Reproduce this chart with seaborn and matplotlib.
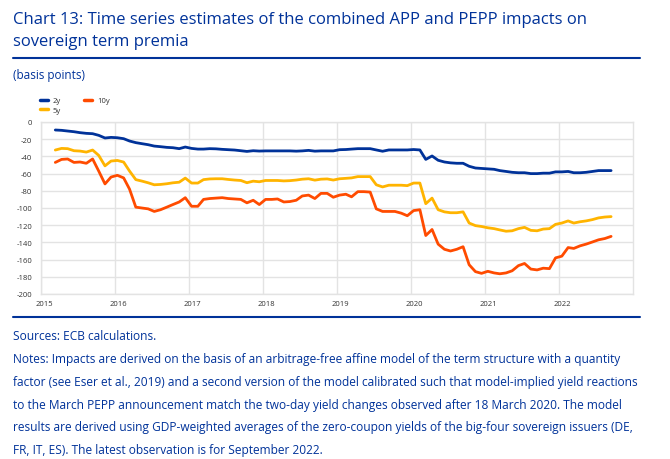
import numpy as np
import pandas as pd
import matplotlib
matplotlib.use("Agg")
import matplotlib.pyplot as plt
import matplotlib.transforms as mtransforms
from matplotlib import font_manager
from matplotlib.lines import Line2D
import seaborn as sns

# ---------------- data (basis points, monthly Mar 2015 - Sep 2022) ----------------
start_month = "2015-03-01"
n_months = 91
series_names = ["2y", "5y", "10y"]
series_colors = ["#003299", "#ffb400", "#ff4b00"]

y2 = [-9.3, -9.7, -10.5, -11.3, -12.4, -13.2, -13.6, -15.5, -18.6, -17.9,
      -18.3, -19.4, -22.1, -24.0, -25.2, -26.4, -28.0, -28.7, -29.5, -29.9, -31.0, -29.1,
      -30.7, -31.5, -31.5, -31.0, -31.2, -31.8, -32.2, -32.6, -33.4, -34.2, -33.4, -33.8,
      -33.6, -33.6, -33.6, -33.6, -33.6, -33.9, -33.6, -33.0, -33.9, -33.6, -33.6, -33.6,
      -32.2, -32.0, -31.5, -31.0, -31.0, -31.0, -32.5, -34.0, -32.5, -32.5, -32.5, -32.5,
      -32.0, -32.5, -43.5, -39.5, -44.5, -46.5, -47.5, -48.0, -48.0, -51.5, -53.5, -54.0,
      -54.5, -55.0, -56.5, -57.5, -58.5, -59.0, -59.0, -60.0, -60.0, -59.5, -59.5, -58.0,
      -58.0, -57.5, -59.0, -59.0, -58.5, -57.5, -56.5, -56.5, -56.5]

y5 = [-32.6, -30.7, -31.0, -33.4, -33.8, -35.0, -32.6, -38.8, -51.0, -45.4,
      -44.7, -46.6, -57.0, -67.0, -68.7, -70.7, -73.0, -72.6, -71.8, -70.7, -70.0, -65.2,
      -71.0, -71.0, -67.0, -66.2, -66.0, -66.0, -66.8, -67.5, -68.0, -70.6, -68.8, -69.5,
      -68.0, -68.0, -68.0, -68.5, -68.2, -67.5, -66.5, -66.0, -67.6, -66.5, -66.2, -67.5,
      -66.0, -65.5, -65.0, -63.5, -63.5, -63.5, -73.0, -75.5, -73.5, -73.5, -73.5, -74.0,
      -71.0, -71.0, -95.0, -88.5, -102.0, -104.5, -105.5, -105.5, -104.5, -117.5, -120.5, -121.5,
      -123.0, -124.0, -125.5, -127.0, -126.5, -124.0, -122.5, -126.0, -126.5, -124.5, -124.0, -119.0,
      -117.5, -115.0, -117.5, -116.0, -115.0, -113.5, -111.5, -110.5, -110.0]

y10 = [-47.0, -43.5, -43.0, -47.0, -46.5, -48.0, -43.0, -57.0, -72.0, -64.0,
       -62.0, -65.0, -78.0, -99.0, -100.0, -101.0, -104.0, -102.0, -99.0, -96.0, -93.0, -88.0,
       -98.0, -98.0, -90.0, -89.0, -88.5, -88.0, -89.0, -89.5, -90.0, -94.0, -91.0, -96.0,
       -90.0, -90.0, -89.5, -93.0, -92.5, -91.0, -86.0, -85.0, -89.0, -83.0, -83.0, -87.5,
       -85.0, -84.0, -87.0, -81.0, -81.0, -81.5, -101.0, -104.0, -104.0, -104.0, -106.0, -109.0,
       -103.0, -102.0, -132.0, -125.0, -142.0, -148.0, -150.0, -148.0, -145.0, -166.0, -174.0, -176.0,
       -173.6, -175.5, -176.5, -175.5, -173.0, -167.0, -164.5, -171.0, -172.0, -170.0, -170.5, -158.0,
       -156.0, -146.0, -147.0, -144.0, -142.0, -139.5, -137.0, -135.5, -133.0]

y_ticks = list(range(-200, 1, 20))
x_tick_years = list(range(2015, 2023))

title_lines = ["Chart 13: Time series estimates of the combined APP and PEPP impacts on",
               "sovereign term premia"]
unit_label = "(basis points)"
note_lines = [
    "Sources: ECB calculations.",
    "Notes: Impacts are derived on the basis of an arbitrage-free affine model of the term structure with a quantity",
    "factor (see Eser et al., 2019) and a second version of the model calibrated such that model-implied yield reactions",
    "to the March PEPP announcement match the two-day yield changes observed after 18 March 2020. The model",
    "results are derived using GDP-weighted averages of the zero-coupon yields of the big-four sovereign issuers (DE,",
    "FR, IT, ES). The latest observation is for September 2022.",
]

# ---------------- frame ----------------
dates = pd.date_range(start_month, periods=n_months, freq="MS") + pd.Timedelta(days=14)
df = pd.concat([
    pd.DataFrame({"date": dates, "value": vals, "series": name})
    for name, vals in zip(series_names, [y2, y5, y10])
], ignore_index=True)

# ---------------- style ----------------
sns.set_style("white")
available = {f.name for f in font_manager.fontManager.ttflist}
fam = [f for f in ["Liberation Sans Narrow", "Open Sans", "DejaVu Sans"] if f in available]
plt.rcParams["font.family"] = fam
plt.rcParams["axes.unicode_minus"] = False

W, H = 670, 460
BLUE = "#003299"
GRID = "#e3e3e3"

fig = plt.figure(figsize=(W / 100, H / 100), dpi=100)
ax = fig.add_axes([40.5 / W, 1 - 295 / H, (633 - 40.5) / W, (295 - 123) / H])

sns.lineplot(data=df, x="date", y="value", hue="series", hue_order=series_names,
             palette=series_colors, linewidth=2.0, ax=ax, legend=False)

ax.set_ylim(-200, 0)
ax.set_xlim(pd.Timestamp("2015-01-01"), pd.Timestamp("2023-01-01"))
ax.set_yticks(y_ticks)
ax.set_yticklabels([str(t) for t in y_ticks])
ax.set_xticks([pd.Timestamp(f"{y}-01-01") for y in x_tick_years])
ax.set_xticklabels([str(y) for y in x_tick_years])
ax.set_xlabel("")
ax.set_ylabel("")
ax.grid(True, color=GRID, linewidth=1.0)
ax.set_axisbelow(True)
for s in ax.spines.values():
    s.set_color(GRID)
    s.set_linewidth(1.0)
ax.tick_params(axis="both", length=0, labelsize=5.5, colors="#333333")
ax.tick_params(axis="y", pad=6)
ax.tick_params(axis="x", pad=4)
shift = mtransforms.ScaledTranslation(3.5 / 100, 0, fig.dpi_scale_trans)
for lab in ax.get_xticklabels():
    lab.set_horizontalalignment("center")
    lab.set_transform(lab.get_transform() + shift)

handles = [Line2D([0], [0], color=c, lw=2.5) for c in series_colors]
leg = fig.legend(handles, series_names, ncol=2, loc="upper left",
                 bbox_to_anchor=(40 / W, 1 - 98 / H), frameon=False,
                 fontsize=5.5, handlelength=1.0, handletextpad=0.7,
                 columnspacing=3.0, labelspacing=0.3, borderaxespad=0, borderpad=0)
for t in leg.get_texts():
    t.set_color("#333333")

# ---------------- texts & rules ----------------
for k, line in enumerate(title_lines):
    fig.text(13 / W, 1 - (20 + 22 * k) / H, line, color=BLUE, fontsize=12.0,
             va="center", ha="left")
fig.add_artist(Line2D([13 / W, 640 / W], [1 - 59 / H] * 2, transform=fig.transFigure,
                      color=BLUE, lw=1.5))
fig.text(13 / W, 1 - 75 / H, unit_label, color=BLUE, fontsize=8.5, va="center", ha="left")
fig.add_artist(Line2D([13 / W, 640 / W], [1 - 318 / H] * 2, transform=fig.transFigure,
                      color=BLUE, lw=1.5))
for k, line in enumerate(note_lines):
    fig.text(13 / W, 1 - (337 + 22.7 * k) / H, line, color=BLUE, fontsize=8.55,
             va="center", ha="left")

fig.savefig("out.png", dpi=100)
